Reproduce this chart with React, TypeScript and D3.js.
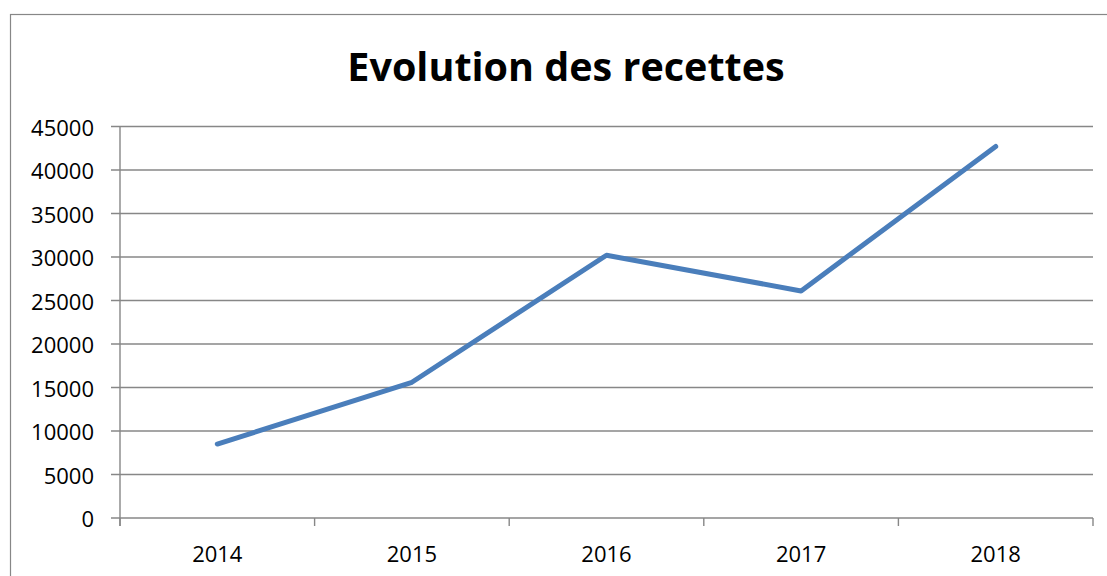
import React from 'react';
import * as d3 from 'd3';

const years = ['2014', '2015', '2016', '2017', '2018'];
const recettes = [8500, 15600, 30200, 26100, 42700];
const yTicks = [0, 5000, 10000, 15000, 20000, 25000, 30000, 35000, 40000, 45000];

const W = 1107;
const H = 576;
const plot = { left: 120, right: 1093, top: 126.5, bottom: 518 };
const FONT = "'Open Sans', 'Liberation Sans', sans-serif";
const GRID = '#878787';

export default function App() {
  const x = d3.scaleBand<string>()
    .domain(years)
    .range([plot.left, plot.right]);

  const y = d3.scaleLinear()
    .domain([0, 45000])
    .range([plot.bottom, plot.top]);

  const line = d3.line<number>()
    .x((_, i) => (x(years[i]) as number) + x.bandwidth() / 2)
    .y(d => y(d));

  // category boundaries for the x tick marks
  const boundaries = years.map(d => x(d) as number).concat([plot.right]);

  return (
    <svg width={W} height={H} style={{ position: 'absolute', left: 0, top: 0, background: '#fff' }}>
      {/* chart border */}
      <rect x={10.5} y={14.5} width={1110} height={600} fill="#fff" stroke={GRID} strokeWidth={1.2} />

      <text x={566} y={80.5} textAnchor="middle" fontFamily={FONT} fontWeight={700}
        fontSize={39.5} fill="#000">
        Evolution des recettes
      </text>

      {/* gridlines + y ticks */}
      {yTicks.map(t => (
        <g key={t}>
          <line x1={plot.left - 9} x2={plot.right} y1={y(t)} y2={y(t)} stroke={GRID} strokeWidth={1.4} />
          <text x={94} y={y(t)} textAnchor="end" dominantBaseline="central"
            fontFamily={FONT} fontSize={22} fill="#000">{t}</text>
        </g>
      ))}

      {/* y axis */}
      <line x1={plot.left} x2={plot.left} y1={plot.top} y2={plot.bottom + 8} stroke={GRID} strokeWidth={1.4} />

      {/* x tick marks */}
      {boundaries.map((b, i) => (
        <line key={i} x1={b} x2={b} y1={plot.bottom} y2={plot.bottom + 8} stroke={GRID} strokeWidth={1.4} />
      ))}

      {years.map(d => (
        <text key={d} x={(x(d) as number) + x.bandwidth() / 2} y={561.5} textAnchor="middle"
          fontFamily={FONT} fontSize={22} fill="#000">{d}</text>
      ))}

      <path d={line(recettes) || ''} fill="none" stroke="#4a7ebb" strokeWidth={5}
        strokeLinejoin="round" strokeLinecap="round" />
    </svg>
  );
}
